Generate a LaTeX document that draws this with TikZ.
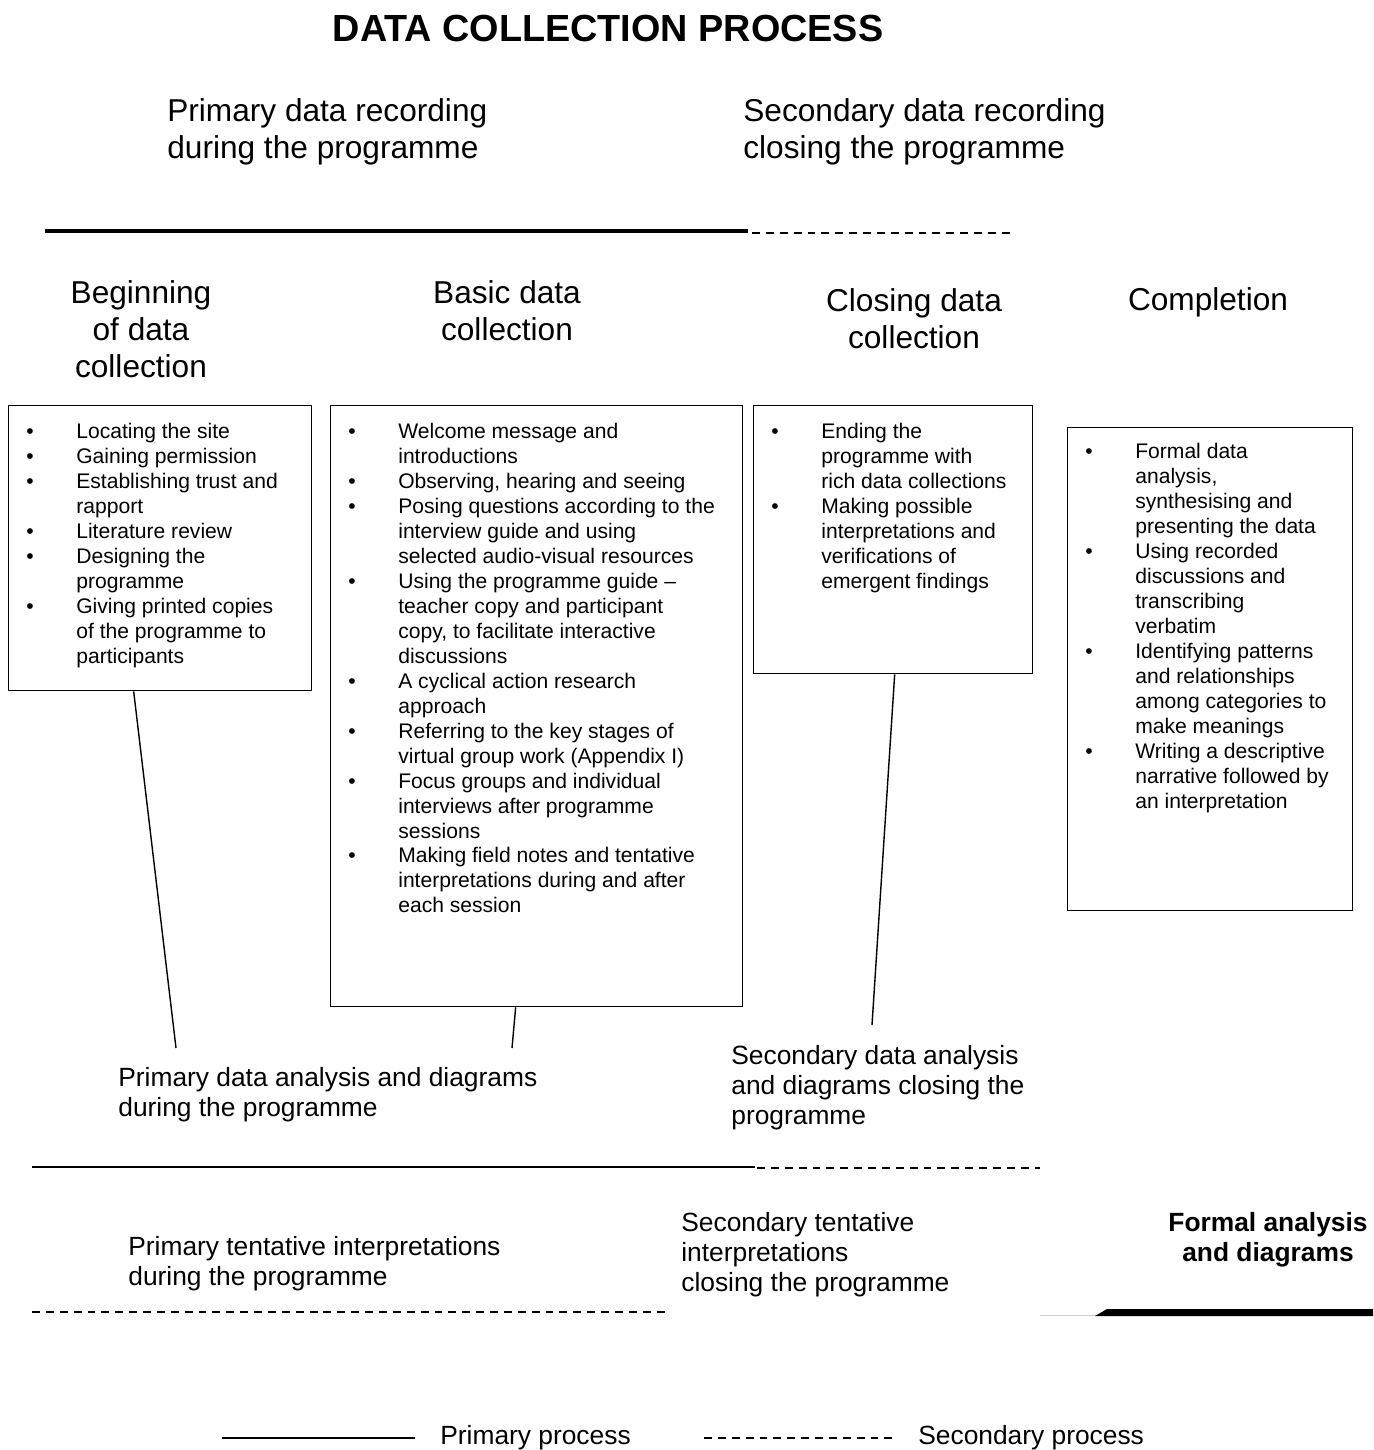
\documentclass[tikz,border=0pt]{standalone}
\usepackage{fontspec}
\setmainfont{Liberation Sans}
\usetikzlibrary{positioning}

\begin{document}
\begin{tikzpicture}
  [x=0.02cm, y=-0.02cm,
   box/.style = {draw, line width=0.8pt, inner sep=0, anchor=north west},
   items/.style = {font=\fontsize{12}{14.2}\selectfont, inner sep=0, anchor=north west},
   stage/.style = {font=\fontsize{18}{21}\selectfont, align=center, inner sep=0},
   record/.style = {font=\fontsize{18}{21}\selectfont, align=left, inner sep=0, anchor=west},
   note/.style = {font=\fontsize{15}{17}\selectfont, align=left, inner sep=0, anchor=west},
   primary/.style = {line width=1.1pt},
   secondary/.style = {line width=1.1pt, dash pattern=on 4.5pt off 3.4pt},
   link/.style = {line width=0.8pt}]
  \useasboundingbox (0,0) rectangle (1373,1450);

  % Title and recording phases
  \node[font=\fontsize{21.5}{25}\selectfont\bfseries, inner sep=0] (title) at (608,28) {DATA COLLECTION PROCESS};
  \node[record] (prirec) at (167,132) {Primary data recording\\during the programme};
  \node[record] (secrec) at (743,132) {Secondary data recording\\closing the programme};
  \draw[line width=2.8pt] (45,231) -- (748,231);
  \draw[secondary] (752,233) -- (1015,233);

  % Stages
  \node[stage] (begin) at (141,329) {Beginning\\of data\\collection};
  \node[stage] (basic) at (507,311) {Basic data\\collection};
  \node[stage] (closing) at (914,319) {Closing data\\collection};
  \node[stage] (complete) at (1208,302) {Completion};

  % Boxes
  \node[box, minimum width=6.06cm, minimum height=5.7cm] (box1) at (8,405) {};
  \node[box, minimum width=8.24cm, minimum height=12.02cm] (box2) at (330,405) {};
  \node[box, minimum width=5.58cm, minimum height=5.36cm] (box3) at (753,405) {};
  \node[box, minimum width=5.7cm, minimum height=9.66cm] (box4) at (1067,427) {};

  % Box contents
  \node[items] (list1) at (26,421) {\begin{tabular}{@{}p{1cm}@{}l@{}}
    \textbullet & Locating the site\\
    \textbullet & Gaining permission\\
    \textbullet & Establishing trust and\\
                & rapport\\
    \textbullet & Literature review\\
    \textbullet & Designing the\\
                & programme\\
    \textbullet & Giving printed copies\\
                & of the programme to\\
                & participants
  \end{tabular}};
  \node[items] (list2) at (348,421) {\begin{tabular}{@{}p{1cm}@{}l@{}}
    \textbullet & Welcome message and\\
                & introductions\\
    \textbullet & Observing, hearing and seeing\\
    \textbullet & Posing questions according to the\\
                & interview guide and using\\
                & selected audio-visual resources\\
    \textbullet & Using the programme guide –\\
                & teacher copy and participant\\
                & copy, to facilitate interactive\\
                & discussions\\
    \textbullet & A cyclical action research\\
                & approach\\
    \textbullet & Referring to the key stages of\\
                & virtual group work (Appendix I)\\
    \textbullet & Focus groups and individual\\
                & interviews after programme\\
                & sessions\\
    \textbullet & Making field notes and tentative\\
                & interpretations during and after\\
                & each session
  \end{tabular}};
  \node[items] (list3) at (771,421) {\begin{tabular}{@{}p{1cm}@{}l@{}}
    \textbullet & Ending the\\
                & programme with\\
                & rich data collections\\
    \textbullet & Making possible\\
                & interpretations and\\
                & verifications of\\
                & emergent findings
  \end{tabular}};
  \node[items] (list4) at (1085,441) {\begin{tabular}{@{}p{1cm}@{}l@{}}
    \textbullet & Formal data\\
                & analysis,\\
                & synthesising and\\
                & presenting the data\\
    \textbullet & Using recorded\\
                & discussions and\\
                & transcribing\\
                & verbatim\\
    \textbullet & Identifying patterns\\
                & and relationships\\
                & among categories to\\
                & make meanings\\
    \textbullet & Writing a descriptive\\
                & narrative followed by\\
                & an interpretation
  \end{tabular}};

  % Analysis
  \node[note] (prian) at (118,1095) {Primary data analysis and diagrams\\during the programme};
  \node[note] (secan) at (731,1088) {Secondary data analysis\\and diagrams closing the\\programme};
  \coordinate (end1) at (176,1048);
  \coordinate (end2) at (512,1048);
  \coordinate (end3) at (872,1025);
  \draw[link] ([xshift=-0.53cm]box1.south) -- (end1);
  \draw[link] ([xshift=-0.42cm]box2.south) -- (end2);
  \draw[link] ([xshift=0.03cm]box3.south) -- (end3);
  \draw[primary] (32,1167) -- (755,1167);
  \draw[secondary] (757,1168) -- (1040,1168);

  % Interpretations
  \node[note] (pritent) at (128,1264) {Primary tentative interpretations\\during the programme};
  \node[note] (sectent) at (681,1255) {Secondary tentative\\interpretations\\closing the programme};
  \node[note, align=center, anchor=center, font=\fontsize{15}{17}\selectfont\bfseries] (formal) at (1268,1240) {Formal analysis\\and diagrams};
  \draw[secondary] (32,1312) -- (668,1312);
  \draw[line width=0.4pt, gray!40] (1040,1315) -- (1097,1315);
  \fill (1095,1316) -- (1107,1309) -- (1373,1309) -- (1373,1316) -- cycle;

  % Legend
  \coordinate (lgp1) at (222,1438);
  \coordinate (lgp2) at (415,1438);
  \coordinate (lgs1) at (704,1438);
  \coordinate (lgs2) at (893,1438);
  \draw[line width=0.9pt] (lgp1) -- (lgp2);
  \draw[line width=0.9pt, dash pattern=on 4.5pt off 3.4pt] (lgs1) -- (lgs2);
  \node[note, right=0.5cm of lgp2] (lgprim) {Primary process};
  \node[note, right=0.5cm of lgs2] (lgsec) {Secondary process};
\end{tikzpicture}
\end{document}
